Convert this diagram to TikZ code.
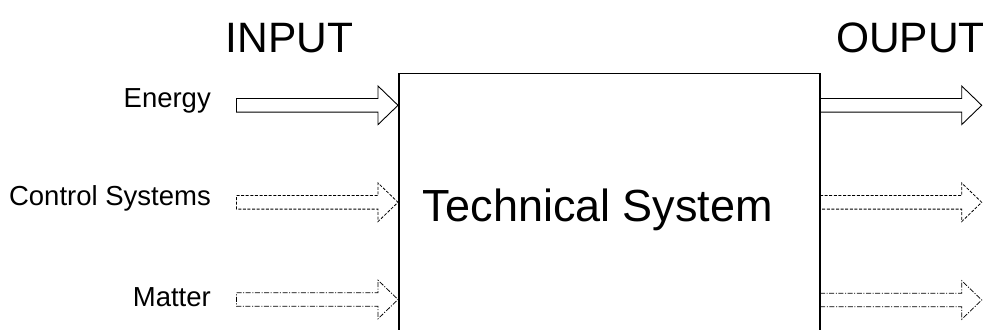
\documentclass[tikz,border=0pt]{standalone}
\usepackage{fontspec}
\setmainfont{Liberation Sans}
\begin{document}
\begin{tikzpicture}[x=1pt,y=-1pt,
  heading/.style={inner sep=0pt,anchor=base,font=\fontsize{42.5}{50}\selectfont},
  flowlabel/.style={inner sep=0pt,anchor=base east,font=\fontsize{27.5}{33}\selectfont},
  systemtext/.style={inner sep=0pt,anchor=base,font=\fontsize{45}{54}\selectfont},
  boxline/.style={line width=1.6pt,line join=miter},
  energyflow/.style={line width=0.9pt,line join=miter},
  signalflow/.style={line width=0.8pt,dash pattern=on 3pt off 1.6pt,line join=miter},
  matterflow/.style={line width=0.8pt,dash pattern=on 5pt off 1.6pt on 1pt off 1.6pt,line join=miter}]
\useasboundingbox (0,0) rectangle (984,329);

% block arrow: tail x, tip x, centre y, style
\newcommand{\blockarrow}[4]{%
  \draw[#4] (#1,#3-6.8) -- (#2-20,#3-6.8) -- (#2-20,#3-19.3) -- (#2,#3)
    -- (#2-20,#3+19.3) -- (#2-20,#3+6.8) -- (#1,#3+6.8) -- cycle;}

% headings
\node[heading] (inhead) at (289.5,52.5) {INPUT};
\node[heading] (outhead) at (910.5,52.5) {OUPUT};

% the system, open at the bottom edge
\coordinate (sysbl) at (399,331);
\coordinate (sysbr) at (820,331);
\draw[boxline] (sysbl) |- (820,73.3) -- (sysbr);
\node[systemtext] (system) at (598,221) {Technical System};

% input labels
\node[flowlabel] (energy) at (211,107.5) {Energy};
\node[flowlabel] (control) at (211,205.5) {Control Systems};
\node[flowlabel] (matter) at (211,306) {Matter};

% input flows
\blockarrow{236.5}{398}{105.3}{energyflow}
\blockarrow{236.5}{398}{202.3}{signalflow}
\blockarrow{236.5}{398}{299.5}{matterflow}

% output flows
\blockarrow{820}{981.7}{105.3}{energyflow}
\blockarrow{820}{981.7}{202.3}{signalflow}
\blockarrow{820}{981.7}{300}{matterflow}
\end{tikzpicture}
\end{document}
